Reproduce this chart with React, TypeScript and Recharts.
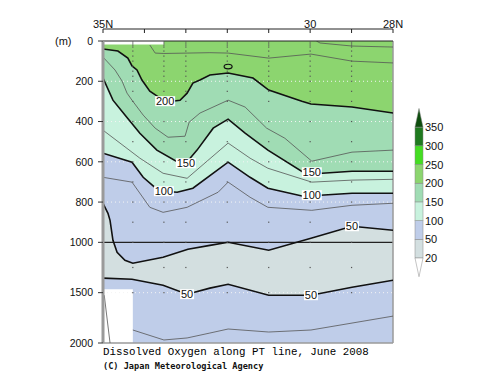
import { ComposedChart, Area, Line, Scatter, XAxis, YAxis, ReferenceLine } from "recharts";

// contour lines: [latitude (deg N), depth (m)]
const c240: [number, number][] = [[29.85, 0], [29.76, 10], [28.99, 25], [28.0, 30]];
const c225: [number, number][] = [[33.87, 20], [33.74, 60], [33.53, 62], [32.97, 60], [32.42, 58], [31.98, 60], [31.0, 85], [29.98, 65], [28.99, 100], [28.0, 109]];
const c200: [number, number][] = [[35.0, 40], [34.64, 50], [34.4, 85], [34.3, 124], [34.18, 144], [34.06, 194], [33.87, 249], [33.62, 284], [33.5, 299], [33.33, 299], [33.14, 294], [32.97, 259], [32.83, 209], [32.66, 194], [32.42, 169], [31.98, 159], [31.38, 184], [31.0, 244], [30.2, 299], [29.98, 313], [28.99, 328], [28.0, 358]];
const c175: [number, number][] = [[35.0, 80], [34.71, 144], [34.54, 199], [34.42, 259], [34.3, 294], [34.03, 368], [33.74, 433], [33.43, 478], [33.02, 473], [32.92, 403], [32.66, 358], [31.98, 294], [31.57, 328], [31.05, 433], [30.61, 483], [29.96, 597], [28.99, 552], [28.0, 542]];
const c150: [number, number][] = [[35.0, 184], [34.76, 294], [34.47, 368], [34.11, 458], [33.7, 542], [33.19, 602], [33.0, 607], [32.73, 542], [32.34, 433], [31.98, 388], [31.57, 458], [31.02, 542], [30.17, 652], [29.96, 652], [29.71, 657], [28.99, 647], [28.0, 647]];
const c125: [number, number][] = [[35.0, 443], [34.59, 507], [34.11, 582], [33.55, 657], [32.97, 682], [31.98, 507], [31.45, 582], [31.02, 632], [29.96, 701], [28.99, 691], [28.0, 687]];
const c100: [number, number][] = [[35.0, 557], [34.3, 602], [34.03, 677], [33.67, 741], [33.53, 746], [33.21, 751], [32.83, 731], [31.98, 602], [31.45, 677], [31.02, 731], [30.17, 771], [29.96, 766], [29.76, 766], [28.99, 756], [28.0, 756]];
const c75a: [number, number][] = [[35.0, 677], [34.3, 701], [33.87, 826], [33.55, 851], [32.97, 826], [32.22, 751], [31.98, 701], [31.45, 776], [31.02, 826], [29.96, 841], [28.99, 816], [28.0, 806]];
const c50a: [number, number][] = [[35.0, 806], [34.88, 856], [34.83, 891], [34.76, 990], [34.66, 1099], [34.47, 1178], [34.28, 1208], [33.55, 1149], [32.95, 1069], [32.42, 1030], [31.98, 1000], [31.0, 1079], [29.98, 980], [28.99, 920], [28.0, 940]];
const c50b: [number, number][] = [[35.0, 1356], [34.3, 1366], [33.55, 1426], [32.97, 1515], [32.42, 1455], [31.98, 1416], [31.0, 1525], [29.98, 1525], [28.99, 1446], [28.0, 1376]];
const c75b: [number, number][] = [[34.28, 1871], [33.53, 1970], [32.97, 1950], [32.42, 1901], [31.98, 1861], [31.0, 1891], [29.98, 1871], [28.99, 1802], [28.0, 1733]];
const c75w: [number, number][] = [[34.97, 1525], [34.83, 2000]];
const loop200: [number, number][] = [[31.98, 127]];

// where the contour value labels sit (latitude on the line)
const labelsAt: Record<string, number[]> = { c200: [33.5], c150: [33.0, 29.96], c100: [33.53, 29.96], c50a: [28.99], c50b: [32.97, 29.98] };

// regions without data: [lat from, lat to, depth top, depth bottom]
const noData: [number, number, number, number][] = [[35.0, 33.53, 0, 17], [35.0, 34.28, 1465, 2000]];

const stationLats = [34.28, 33.53, 33.0, 32.0, 31.0, 30.0, 29.0];
const sampleDepths = [0, 10, 20, 30, 50, 75, 100, 125, 150, 175, 200, 250, 300, 400, 500, 600, 700, 800, 900, 1000, 1250, 1500];
const obsTicks = [34.95, 34.78, 34.6, 34.42, 34.27, 33.9, 33.5, 33.0, 32.5, 32.0, 31.5, 31.0, 30.5, 30.0, 29.5, 29.0, 28.5];
const degTicks = [35, 34, 33, 32, 31, 30, 29, 28];
const depthTicks = [0, 200, 400, 600, 800, 1000, 1500, 2000];
const gridDepths = [200, 400, 600, 800, 1500];

const barLevels = [20, 50, 100, 150, 200, 250, 300, 350];
const barColors = ["#d3dfe0", "#bfcde9", "#c8f2de", "#a0dcb4", "#8cd56f", "#44dd22", "#1f7a1f"];
const barTop = "#0e4d0e";

const GREEN = "#8cd56f";
const MINT = "#a0dcb4";
const PALE = "#c8f2de";
const LAV = "#bfcde9";
const GRAY = "#d3dfe0";

const toPlot = (m: number) => (m <= 1000 ? m : 1000 + (m - 1000) / 2);
const pts = (c: [number, number][]) => c.map(([lat, m]) => ({ lat, d: toPlot(m) }));

const latLabel = (v: number) => (v === 35 ? "35N" : v === 30 ? "30" : v === 28 ? "28N" : "");

const contourLabel = (c: [number, number][], at: number[], text: string) => (p: any) => {
  const i = p.index;
  if (i == null || !c[i] || !at.includes(c[i][0])) return null;
  const w = text.length * 6 + 2;
  return (
    <g key={`lb${i}`}>
      <rect x={p.x - w / 2} y={p.y - 5} width={w} height={10} fill="#fff" />
      <text x={p.x} y={p.y + 4} textAnchor="middle" fontSize={11} fontFamily="Liberation Sans" fill="#111">{text}</text>
    </g>
  );
};

const fills: { key: string; c: [number, number][]; fill: string }[] = [
  { key: "c200", c: c200, fill: MINT },
  { key: "c150", c: c150, fill: PALE },
  { key: "c100", c: c100, fill: LAV },
  { key: "c50a", c: c50a, fill: GRAY },
  { key: "c50b", c: c50b, fill: LAV },
];

const thick: { key: string; c: [number, number][]; text: string }[] = [
  { key: "c200", c: c200, text: "200" },
  { key: "c150", c: c150, text: "150" },
  { key: "c100", c: c100, text: "100" },
  { key: "c50a", c: c50a, text: "50" },
  { key: "c50b", c: c50b, text: "50" },
];

const thin: { key: string; c: [number, number][] }[] = [
  { key: "c240", c: c240 },
  { key: "c225", c: c225 },
  { key: "c175", c: c175 },
  { key: "c125", c: c125 },
  { key: "c75a", c: c75a },
  { key: "c75b", c: c75b },
  { key: "c75w", c: c75w },
];

const samples = stationLats.flatMap((lat) => sampleDepths.map((m) => ({ lat, d: toPlot(m) })));

const ColorBar = () => {
  const x = 415;
  const w = 8;
  const y0 = 258;
  const step = 18.7;
  return (
    <svg width={500} height={387} style={{ position: "absolute", left: 0, top: 0, pointerEvents: "none" }}>
      {barColors.map((c, i) => (
        <rect key={c} x={x} y={y0 - (i + 1) * step} width={w} height={step} fill={c} stroke="#888" strokeWidth={0.5} />
      ))}
      <polygon points={`${x},${y0 - 7 * step} ${x + w},${y0 - 7 * step} ${x + w / 2},${y0 - 8 * step}`} fill={barTop} stroke="#888" strokeWidth={0.5} />
      <polygon points={`${x},${y0} ${x + w},${y0} ${x + w / 2},${y0 + step}`} fill="#fff" stroke="#888" strokeWidth={0.5} />
      {barLevels.map((v, i) => (
        <text key={v} x={x + w + 2} y={y0 - i * step + 4} fontSize={11} fontFamily="Liberation Sans" fill="#111">{v}</text>
      ))}
    </svg>
  );
};

export default function App() {
  return (
    <div style={{ position: "absolute", left: 0, top: 0, width: 500, height: 387, background: "#fff", fontFamily: "Liberation Sans" }}>
      <ComposedChart width={500} height={387} margin={{ top: 9, right: 107, bottom: 44, left: 53 }}>
        <XAxis xAxisId="top2" dataKey="lat" type="number" domain={[28, 35]} reversed allowDataOverflow orientation="top"
          ticks={degTicks} interval={0} height={20} tickSize={-4} tickMargin={5} tickFormatter={latLabel}
          axisLine={{ stroke: "#222" }} tickLine={{ stroke: "#222" }} tick={{ fontSize: 11, fill: "#111" }} />
        <XAxis xAxisId="top1" dataKey="lat" type="number" domain={[28, 35]} reversed allowDataOverflow orientation="top"
          ticks={obsTicks} interval={0} height={12} tickSize={4} tick={false} axisLine={{ stroke: "#222" }} tickLine={{ stroke: "#222" }} />
        <YAxis dataKey="d" type="number" domain={[0, 1500]} reversed allowDataOverflow ticks={depthTicks.map(toPlot)} interval={0}
          width={50} tickSize={5} tickMargin={5} tickFormatter={(v: number) => String(v <= 1000 ? v : 1000 + (v - 1000) * 2)}
          axisLine={{ stroke: "#9a9a9a", strokeWidth: 3 }} tickLine={{ stroke: "#333" }} tick={{ fontSize: 10.5, fill: "#111" }} />

        <Area xAxisId="top1" data={pts([[35, 0], [28, 0]])} dataKey="d" type="linear" baseValue={1500} fill={GREEN} fillOpacity={1} stroke="none" isAnimationActive={false} />
        {fills.map((f) => (
          <Area key={f.key} xAxisId="top1" data={pts(f.c)} dataKey="d" type="linear" baseValue={1500} fill={f.fill} fillOpacity={1} stroke="none" isAnimationActive={false} />
        ))}
        {noData.map(([a, b, t, btm], i) => (
          <Area key={`nd${i}`} xAxisId="top1" data={[{ lat: a, r: [toPlot(t), toPlot(btm)] }, { lat: b, r: [toPlot(t), toPlot(btm)] }]}
            dataKey="r" type="linear" fill="#fff" fillOpacity={1} stroke="none" isAnimationActive={false} />
        ))}

        {gridDepths.map((m) => (
          <ReferenceLine key={m} xAxisId="top1" y={toPlot(m)} stroke="#f4f4f4" strokeDasharray="1 3" />
        ))}
        <ReferenceLine xAxisId="top1" y={1000} stroke="#222" strokeWidth={1.2} />
        <ReferenceLine xAxisId="top1" x={28} stroke="#9a9a9a" strokeWidth={1.5} />
        <ReferenceLine xAxisId="top1" y={1500} stroke="#9a9a9a" strokeWidth={1.5} />

        <Scatter xAxisId="top1" data={samples} dataKey="d" isAnimationActive={false}
          shape={(p: any) => <rect x={p.cx - 0.6} y={p.cy - 0.6} width={1.2} height={1.2} fill="#555" />} />

        {thin.map((t) => (
          <Line key={t.key} xAxisId="top1" data={pts(t.c)} dataKey="d" type="linear" stroke="#555" strokeWidth={0.8} dot={false} activeDot={false} isAnimationActive={false} />
        ))}
        {thick.map((t) => (
          <Line key={t.key} xAxisId="top1" data={pts(t.c)} dataKey="d" type="linear" stroke="#111" strokeWidth={1.6} dot={false} activeDot={false}
            isAnimationActive={false} label={contourLabel(t.c, labelsAt[t.key] || [], t.text)} />
        ))}
        <Scatter xAxisId="top1" data={pts(loop200)} dataKey="d" isAnimationActive={false}
          shape={(p: any) => <ellipse cx={p.cx} cy={p.cy} rx={4} ry={2.3} fill={GREEN} stroke="#111" strokeWidth={1.2} />} />
      </ComposedChart>
      <ColorBar />
      <div style={{ position: "absolute", left: 55, top: 35, fontSize: 11, lineHeight: "12px", color: "#111" }}>(m)</div>
      <div style={{ position: "absolute", left: 103, top: 346, fontSize: 10.8, lineHeight: "13px", fontFamily: "Liberation Mono", color: "#000", whiteSpace: "nowrap" }}>
        Dissolved Oxygen along PT line, June 2008
      </div>
      <div style={{ position: "absolute", left: 103, top: 361, fontSize: 8.6, lineHeight: "10px", fontFamily: "DejaVu Sans Mono", fontWeight: "bold", color: "#111", whiteSpace: "nowrap" }}>
        (C) Japan Meteorological Agency
      </div>
    </div>
  );
}
